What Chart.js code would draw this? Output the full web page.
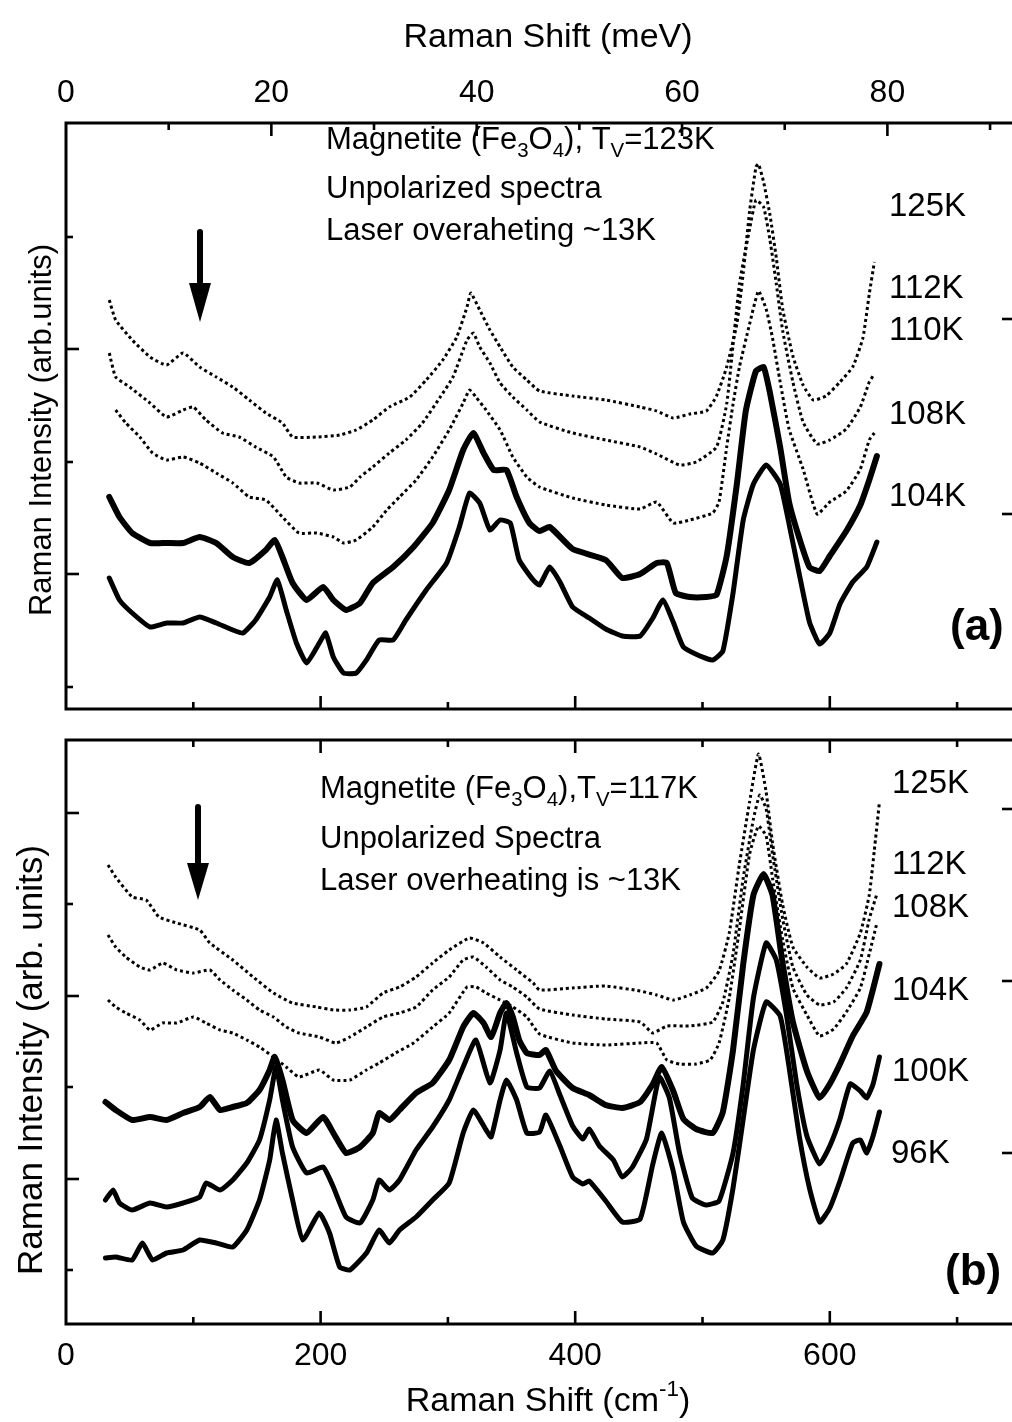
<!DOCTYPE html>
<html><head><meta charset="utf-8">
<script src="https://cdn.jsdelivr.net/npm/chart.js@4.4.1/dist/chart.umd.min.js"></script>
<style>
html,body{margin:0;padding:0;background:#fff;overflow:hidden;width:1012px;height:1422px;position:relative;}
canvas{position:absolute;left:0;}
#ca{top:0;}
#cb{top:725px;}
</style></head><body>
<canvas id="ca" width="1030" height="725"></canvas>
<canvas id="cb" width="1030" height="697"></canvas>
<script>
// ---------- tick labels ----------
const cmTickVals = [0,100,200,300,400,500,600,700];
const cmTickLabels = ['0','','200','','400','','600',''];
const meVTickVals = [0,10,20,30,40,50,60,70,80,90];
const meVTickLabels = ['0','','20','','40','','60','','80',''];
const aLeftTicks = [22,135,247,360,472];
const aLeftLong = [0,1,0,1,0];
const aRightTicks = [195,390];
const bLeftTicks = [54,145,237,328,420,511];
const bLeftLong = [0,1,0,1,0,1];
const bRightTicks = [171,343,515];

// ---------- panel (a) series: Raman shift (cm-1) / intensity (arb. units) ----------
const a125K_x = [34,39,52,66,79,92,105,118,131,144,157,170,178,197,215,228,241,254,270,283,296,307,315,318,325,333,341,351,362,372,398,424,451,464,477,490,503,511,519,527,532,537,542,544,548,553,558,563,571,579,587,597,608,618,626,631,635];
const a125K_y = [409,389,369,352,344,356,342,332,322,309,296,286,272,272,274,279,289,302,312,329,349,372,402,416,399,379,362,342,329,318,313,309,302,298,291,295,298,313,342,385,436,498,542,545,527,494,451,400,353,324,309,313,327,342,371,415,447];
const a112K_x = [34,39,50,66,79,92,100,110,123,136,149,163,173,183,197,210,223,231,241,254,267,280,294,304,315,320,325,333,341,351,362,372,398,424,451,464,482,495,511,519,524,529,537,542,548,553,558,563,571,579,590,600,613,624,631,635];
const a112K_y = [356,332,322,306,292,299,302,289,276,272,262,252,232,226,226,219,222,232,242,256,269,286,312,332,369,376,362,346,326,312,299,287,276,269,262,255,244,247,262,305,364,425,480,509,502,469,425,378,327,287,265,269,280,302,327,335];
const a110K_x = [39,47,58,68,79,92,105,118,131,144,157,170,183,197,210,218,228,241,252,262,275,288,301,312,317,322,330,341,351,362,372,398,424,451,464,477,490,508,513,519,524,529,537,544,550,555,561,568,579,590,600,613,624,631,635];
const a110K_y = [299,286,272,256,249,252,246,236,226,212,209,192,176,176,172,166,169,182,199,212,229,252,279,306,319,312,299,279,252,232,222,211,204,200,207,186,189,196,207,262,305,342,385,418,400,371,327,280,240,195,207,218,240,269,276];
const a108K_x = [34,42,52,66,79,92,105,118,131,144,157,164,170,178,189,202,210,220,231,241,257,273,288,301,312,320,328,336,346,354,364,372,380,398,424,437,451,464,472,479,490,503,511,519,527,534,542,548,553,561,568,576,584,592,600,613,624,631,637];
const a108K_y = [212,192,176,166,166,166,172,166,152,146,159,169,152,126,109,122,109,99,106,126,142,162,186,219,259,276,256,239,239,212,186,178,182,160,149,131,135,146,146,116,112,112,114,153,225,298,338,342,316,262,207,171,142,138,153,178,204,229,253];
const a104K_x = [34,42,52,66,79,92,105,118,131,139,149,160,166,173,181,189,199,204,210,218,228,236,246,257,267,283,299,309,317,325,333,341,349,356,367,372,380,388,398,411,424,437,451,461,469,477,485,498,508,516,524,532,540,550,561,568,576,584,592,600,608,618,629,637];
const a104K_y = [131,109,96,82,86,86,92,86,79,76,89,112,129,99,66,46,66,76,52,36,36,49,69,69,89,119,146,182,216,206,179,189,186,149,129,124,142,127,102,91,80,73,73,91,109,87,62,53,49,58,116,189,225,244,225,185,135,87,65,76,105,127,142,167];

// ---------- panel (b) series ----------
const b125K_x = [33,39,52,63,73,87,105,113,131,147,163,178,197,210,223,236,249,262,275,288,301,317,328,341,354,367,372,398,424,451,464,477,490,503,513,521,529,537,544,550,555,563,571,582,592,603,613,624,631,635,639];
const b125K_y = [459,447,427,424,407,401,394,381,364,347,331,321,317,314,314,317,331,337,347,361,374,386,381,367,354,341,334,336,338,333,329,324,329,336,353,391,460,522,570,532,481,419,377,357,346,350,360,391,429,474,522];
const b112K_x = [33,39,47,58,66,76,87,100,113,121,131,142,152,163,173,183,199,212,223,236,249,262,275,288,301,312,320,330,341,351,362,372,398,424,451,461,472,490,508,516,524,532,540,545,550,555,563,571,582,592,603,613,624,631,637];
const b112K_y = [389,377,367,357,354,361,354,351,354,344,334,324,314,307,297,291,287,281,287,297,307,311,317,334,347,364,367,357,344,337,327,315,309,305,302,291,298,298,302,322,370,446,505,529,515,470,405,357,329,319,322,336,364,405,430];
const b108K_x = [33,39,47,58,66,76,87,100,110,121,131,142,152,163,173,183,199,210,223,236,246,259,273,288,301,315,322,330,341,351,362,372,398,424,451,464,472,482,495,506,513,521,529,537,544,550,555,563,571,582,592,603,613,624,631,637];
const b108K_y = [324,317,311,304,294,301,301,307,301,294,291,284,277,267,257,247,254,244,244,254,261,271,281,297,311,337,337,331,324,317,307,290,281,279,281,281,264,260,260,264,281,326,395,470,498,488,446,384,336,309,288,295,312,336,370,401];
const b104K_x = [31,39,52,66,79,92,105,113,121,131,142,152,160,164,170,178,189,202,210,220,231,241,246,254,262,275,288,301,312,320,328,334,341,346,351,356,362,372,377,385,398,411,424,437,451,461,468,477,485,495,508,516,524,532,540,548,555,563,571,582,592,600,608,618,629,639];
const b104K_y = [222,214,204,207,204,211,217,227,214,217,221,234,254,267,244,204,191,207,191,171,177,191,211,204,214,231,241,264,297,311,301,287,311,321,307,284,271,269,274,253,236,229,219,216,222,240,257,233,205,195,191,212,274,360,429,450,429,360,302,253,226,240,260,288,312,360];
const b100K_x = [31,37,42,52,66,79,92,105,110,121,131,142,152,160,165,170,178,189,202,210,220,231,241,246,254,262,275,288,301,312,322,333,341,346,354,362,372,380,388,398,406,411,419,430,437,445,456,466,474,482,492,503,513,524,532,540,550,558,566,574,582,592,600,608,616,624,629,634,639];
const b100K_y = [124,134,121,114,121,117,121,127,141,134,144,161,184,224,257,224,177,151,157,137,107,101,124,144,134,144,174,197,224,257,284,241,274,311,271,237,236,253,229,198,185,195,178,164,147,157,185,247,226,171,126,119,123,171,240,326,381,364,309,240,188,160,178,205,240,233,226,240,267];
const b96K_x = [31,39,52,60,68,79,92,105,118,131,142,152,160,165,170,178,186,199,207,215,223,236,246,254,262,275,288,301,312,320,330,334,341,346,354,362,372,377,388,398,406,411,424,437,451,461,468,477,485,495,508,516,524,532,540,550,561,568,576,584,592,600,608,618,624,629,634,639];
const b96K_y = [66,67,64,81,64,71,74,84,81,77,94,124,164,204,171,124,84,111,91,57,54,71,94,81,94,107,124,141,191,214,194,187,224,244,224,191,192,209,178,147,140,143,123,102,105,160,191,153,102,78,71,84,136,205,274,322,308,257,188,136,102,116,143,181,184,171,188,212];

// ---------- helpers ----------
const FONT = '"Liberation Sans", Arial, Helvetica, sans-serif';
const PXCM = 1.273;
const XMAX = (1014 - 66) / PXCM;
const MEV = 8.0655;

function pts(xs, ys) { return xs.map((v, i) => ({x: v, y: ys[i]})); }
function solid(label, xs, ys, w) {
  return {label, data: pts(xs, ys), borderColor: '#000', borderWidth: w, pointRadius: 0, tension: 0.15, fill: false, borderJoinStyle: 'round', borderCapStyle: 'round'};
}
function dotted(label, xs, ys) {
  return {label, data: pts(xs, ys), borderColor: '#000', borderWidth: 3, borderDash: [3, 3], pointRadius: 0, tension: 0.15, fill: false};
}

function richWidth(ctx, parts, size) {
  let w = 0;
  for (const p of parts) {
    const s = (p.sub || p.sup) ? size * 0.66 : size;
    ctx.font = s + 'px ' + FONT;
    w += ctx.measureText(p.t).width;
  }
  return w;
}
function rich(ctx, x, y, parts, size, align) {
  let cx = x;
  if (align === 'center') cx = x - richWidth(ctx, parts, size) / 2;
  ctx.textAlign = 'left';
  ctx.textBaseline = 'alphabetic';
  for (const p of parts) {
    const s = (p.sub || p.sup) ? size * 0.66 : size;
    ctx.font = s + 'px ' + FONT;
    const dy = p.sub ? size * 0.27 : (p.sup ? -size * 0.45 : 0);
    ctx.fillText(p.t, cx, y + dy);
    cx += ctx.measureText(p.t).width;
  }
}
function txt(ctx, s, x, y, size, bold) {
  ctx.font = (bold ? 'bold ' : '') + size + 'px ' + FONT;
  ctx.textAlign = 'left';
  ctx.textBaseline = 'alphabetic';
  ctx.fillText(s, x, y);
}
function vtxt(ctx, s, cx, cy, size) {
  ctx.save();
  ctx.translate(cx, cy);
  ctx.rotate(-Math.PI / 2);
  ctx.font = size + 'px ' + FONT;
  ctx.textAlign = 'center';
  ctx.textBaseline = 'middle';
  ctx.fillText(s, 0, 0);
  ctx.restore();
}
function arrow(ctx, x, yTop, yHead, yTip) {
  ctx.save();
  ctx.strokeStyle = '#000';
  ctx.lineWidth = 6;
  ctx.lineCap = 'round';
  ctx.beginPath(); ctx.moveTo(x, yTop); ctx.lineTo(x, yHead + 4); ctx.stroke();
  ctx.beginPath();
  ctx.moveTo(x - 11, yHead); ctx.lineTo(x + 11, yHead); ctx.lineTo(x, yTip); ctx.closePath();
  ctx.fillStyle = '#000'; ctx.fill();
  ctx.restore();
}
function line(ctx, x1, y1, x2, y2) {
  ctx.beginPath(); ctx.moveTo(x1, y1); ctx.lineTo(x2, y2); ctx.stroke();
}

const decoPlugin = {
  id: 'deco',
  afterDraw(chart, args, o) {
    const ctx = chart.ctx, ca = chart.chartArea;
    const xs = chart.scales.x, ys = chart.scales.y;
    ctx.save();
    ctx.strokeStyle = '#000';
    ctx.fillStyle = '#000';
    ctx.lineWidth = 3;
    ctx.lineCap = 'butt';
    ctx.strokeRect(ca.left, ca.top, ca.right - ca.left, ca.bottom - ca.top);
    ctx.lineWidth = 2.6;
    cmTickVals.forEach((v, i) => {
      const px = xs.getPixelForValue(v);
      const len = cmTickLabels[i] ? 13 : 7;
      if (i === 0) return;
      line(ctx, px, ca.bottom, px, ca.bottom - len);
      if (o.panel === 'b') line(ctx, px, ca.top, px, ca.top + len);
    });
    if (o.panel === 'a') {
      const xt = chart.scales.xt;
      meVTickVals.forEach((v, i) => {
        const px = xt.getPixelForValue(v);
        const len = meVTickLabels[i] ? 13 : 7;
        if (i > 0) line(ctx, px, ca.top, px, ca.top + len);
        if (meVTickLabels[i]) {
          ctx.font = '32px ' + FONT; ctx.textAlign = 'center'; ctx.textBaseline = 'alphabetic';
          ctx.fillText(meVTickLabels[i], px, 102);
        }
      });
    } else {
      cmTickVals.forEach((v, i) => {
        if (!cmTickLabels[i]) return;
        const px = xs.getPixelForValue(v);
        ctx.font = '32px ' + FONT; ctx.textAlign = 'center'; ctx.textBaseline = 'alphabetic';
        ctx.fillText(cmTickLabels[i], px, 1365 - 725);
      });
    }
    const lt = o.panel === 'a' ? aLeftTicks : bLeftTicks;
    const ll = o.panel === 'a' ? aLeftLong : bLeftLong;
    lt.forEach((v, i) => {
      const py = ys.getPixelForValue(v);
      line(ctx, ca.left, py, ca.left + (ll[i] ? 13 : 7), py);
    });
    const rt = o.panel === 'a' ? aRightTicks : bRightTicks;
    rt.forEach(v => {
      const py = ys.getPixelForValue(v);
      line(ctx, ca.right, py, ca.right - 12, py);
    });

    if (o.panel === 'a') {
      rich(ctx, 548, 47, [{t: 'Raman Shift (meV)'}], 34, 'center');
      vtxt(ctx, 'Raman Intensity (arb.units)', 42, 430, 31);
      rich(ctx, 326, 149, [{t: 'Magnetite (Fe'}, {t: '3', sub: 1}, {t: 'O'}, {t: '4', sub: 1}, {t: '), T'}, {t: 'V', sub: 1}, {t: '=123K'}], 31);
      rich(ctx, 326, 198, [{t: 'Unpolarized spectra'}], 31);
      rich(ctx, 326, 240, [{t: 'Laser overaheting ~13K'}], 31);
      txt(ctx, '125K', 889, 216, 33);
      txt(ctx, '112K', 889, 298, 33);
      txt(ctx, '110K', 889, 340, 33);
      txt(ctx, '108K', 889, 424, 33);
      txt(ctx, '104K', 889, 506, 33);
      txt(ctx, '(a)', 950, 640, 44, true);
      arrow(ctx, 200, 232, 283, 322);
    } else {
      const off = 725;
      rich(ctx, 548, 1411 - off, [{t: 'Raman Shift (cm'}, {t: '-1', sup: 1}, {t: ')'}], 34, 'center');
      vtxt(ctx, 'Raman Intensity (arb. units)', 32, 1060 - off, 35);
      rich(ctx, 320, 798 - off, [{t: 'Magnetite (Fe'}, {t: '3', sub: 1}, {t: 'O'}, {t: '4', sub: 1}, {t: '),T'}, {t: 'V', sub: 1}, {t: '=117K'}], 31);
      rich(ctx, 320, 848 - off, [{t: 'Unpolarized Spectra'}], 31);
      rich(ctx, 320, 890 - off, [{t: 'Laser overheating is ~13K'}], 31);
      txt(ctx, '125K', 892, 793 - off, 33);
      txt(ctx, '112K', 892, 874 - off, 33);
      txt(ctx, '108K', 892, 917 - off, 33);
      txt(ctx, '104K', 892, 1000 - off, 33);
      txt(ctx, '100K', 892, 1081 - off, 33);
      txt(ctx, '96K', 891, 1163 - off, 33);
      txt(ctx, '(b)', 945, 1285 - off, 44, true);
      arrow(ctx, 198, 807 - off, 863 - off, 900 - off);
    }
    ctx.restore();
  }
};

function makeChart(id, datasets, panel, pad, ymax) {
  const scales = {
    x: {type: 'linear', min: 0, max: XMAX, display: false},
    y: {type: 'linear', min: 0, max: ymax, display: false}
  };
  if (panel === 'a') scales.xt = {type: 'linear', axis: 'x', position: 'top', min: 0, max: XMAX / MEV, display: false};
  return new Chart(document.getElementById(id), {
    type: 'line',
    data: {datasets},
    options: {
      responsive: false, animation: false, devicePixelRatio: 1,
      layout: {padding: pad},
      scales,
      plugins: {legend: {display: false}, tooltip: {enabled: false}, deco: {panel}}
    },
    plugins: [decoPlugin]
  });
}

makeChart('ca', [
  dotted('125K', a125K_x, a125K_y),
  dotted('112K', a112K_x, a112K_y),
  dotted('110K', a110K_x, a110K_y),
  solid('108K', a108K_x, a108K_y, 6),
  solid('104K', a104K_x, a104K_y, 5)
], 'a', {left: 66, top: 123, right: 16, bottom: 16}, 586);

makeChart('cb', [
  dotted('125K', b125K_x, b125K_y),
  dotted('112K', b112K_x, b112K_y),
  dotted('108K', b108K_x, b108K_y),
  solid('104K', b104K_x, b104K_y, 6),
  solid('100K', b100K_x, b100K_y, 5),
  solid('96K', b96K_x, b96K_y, 5)
], 'b', {left: 66, top: 15, right: 16, bottom: 98}, 584);
</script>
</body></html>
